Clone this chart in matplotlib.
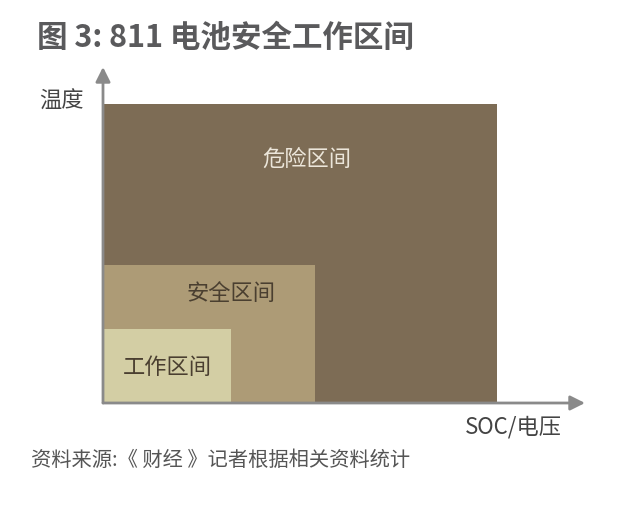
import matplotlib as mpl
mpl.use('Agg')
import matplotlib.pyplot as plt
from matplotlib.patches import Rectangle

plt.rcParams['font.family'] = ['Noto Sans CJK SC', 'DejaVu Sans']

# zones: name, width (SOC/voltage units), height (temperature units), colour
zones = ['危险区间', '安全区间', '工作区间']
widths = [9.85, 5.3, 3.2]
heights = [7.48, 3.45, 1.85]
colors = ['#7d6c55', '#ad9b76', '#d3cea4']
label_pos = [(5.1, 6.1), (3.2, 2.75), (1.6, 0.88)]
label_colors = ['#ece6da', '#4a3f30', '#4a3f30']

x_label = 'SOC/电压'
y_label = '温度'
title = '图 3: 811 电池安全工作区间'
source = '资料来源:《 财经 》记者根据相关资料统计'

fig = plt.figure(figsize=(6.4, 5.09), dpi=100)
# axes origin sits at pixel (103, 403); 40 px per unit
ax = fig.add_axes([103 / 640, 106 / 509, 520 / 640, 400 / 509])
ax.set_xlim(0, 13)
ax.set_ylim(0, 10)
ax.axis('off')

for name, w, h, c in zip(zones, widths, heights, colors):
    ax.add_patch(Rectangle((0, 0), w, h, facecolor=c, edgecolor='none'))

for name, (tx, ty), tc in zip(zones, label_pos, label_colors):
    ax.text(tx, ty, name, ha='center', va='center', fontsize=16, color=tc)

arrow = dict(arrowstyle='-|>', color='#8a8a8a', lw=2, mutation_scale=22,
             shrinkA=0, shrinkB=0)
ax.annotate('', xy=(12.05, 0), xytext=(0, 0), arrowprops=arrow, annotation_clip=False)
ax.annotate('', xy=(0, 8.4), xytext=(0, 0), arrowprops=arrow, annotation_clip=False)

ax.text(-1.05, 7.55, y_label, ha='center', va='center', fontsize=16, color='#444444')
ax.text(10.25, -0.6, x_label, ha='center', va='center', fontsize=16, color='#444444')

fig.text(37 / 640, 1 - 38 / 509, title, ha='left', va='center', fontsize=22,
         fontweight='bold', color='#5a5a5c')
fig.text(31 / 640, 1 - 460 / 509, source, ha='left', va='center', fontsize=14.6,
         color='#555555', style='italic')

fig.savefig('out.png', dpi=100)
